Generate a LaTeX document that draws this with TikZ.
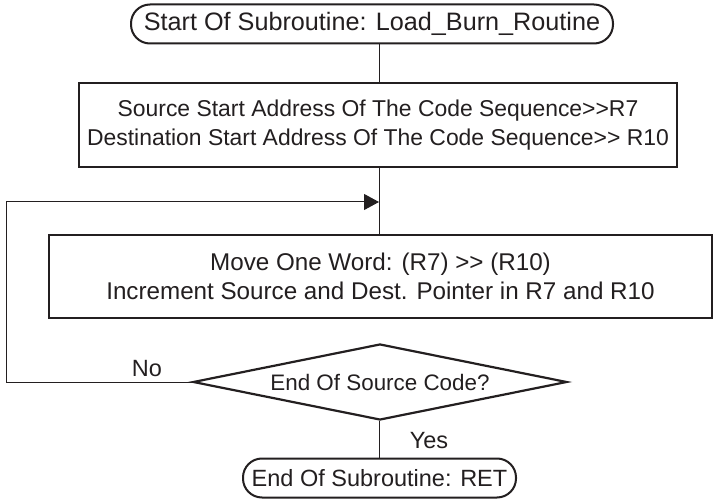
\documentclass[tikz,border=0pt]{standalone}
\usepackage{fontspec}
\setmainfont{Liberation Sans}
\usetikzlibrary{arrows.meta,shapes.geometric}
\definecolor{ink}{HTML}{231F20}
\begin{document}
\begin{tikzpicture}[x=1pt,y=-1pt,
  every node/.style={font=\fontsize{23.5}{29}\selectfont, text=ink},
  term/.style={draw=ink, line width=2pt, rounded corners=19pt, minimum height=39pt, inner sep=0pt},
  proc/.style={draw=ink, line width=2.2pt, inner sep=0pt, align=center},
  dec/.style={draw=ink, line width=2.2pt, diamond, aspect=4.9, inner sep=0pt, minimum width=374pt, minimum height=76pt},
  link/.style={draw=ink, line width=1pt},
  lbl/.style={inner sep=0pt}]
\useasboundingbox (0,0) rectangle (713,500);
\fill[white] (0,0) rectangle (713,500);

\node[term, minimum width=482pt, font=\fontsize{25.2}{29}\selectfont] (start) at (372,24) {Start Of Subroutine: Load\_Burn\_Routine};
\node[proc, minimum width=598pt, minimum height=84pt, font=\fontsize{22.9}{29}\selectfont] (b1) at (378,125)
  {Source Start Address Of The Code Sequence>{}>R7\\Destination Start Address Of The Code Sequence>{}> R10};
\coordinate (j) at (379,202);
\coordinate (lx) at (6,202);
\node[proc, minimum width=663pt, minimum height=83pt, font=\fontsize{24.2}{29}\selectfont] (b2) at (380.5,276.5)
  {Move One Word: (R7) >{}> (R10)\\Increment Source and Dest. Pointer in R7 and R10};
\node[dec, font=\fontsize{22.4}{29}\selectfont] (dec) at (380,382) {End Of Source Code?};
\node[term, minimum width=273pt] (end) at (379.5,478) {End Of Subroutine: RET};
\node[lbl] (no) at (147,369) {No};
\node[lbl] (yes) at (429,441) {Yes};

\draw[link] (start.south -| j) -- (b1.north -| j);
\draw[link] (b1.south -| j) -- (b2.north -| j);
\draw[link] (b2.south -| j) -- (b2.south -| j |- dec.north);
\draw[link] (dec.south -| j) -- (end.north -| j);
\draw[link, -{Triangle[length=15pt,width=16pt]}] (dec.west) -| (lx) -- (j);
\end{tikzpicture}
\end{document}
